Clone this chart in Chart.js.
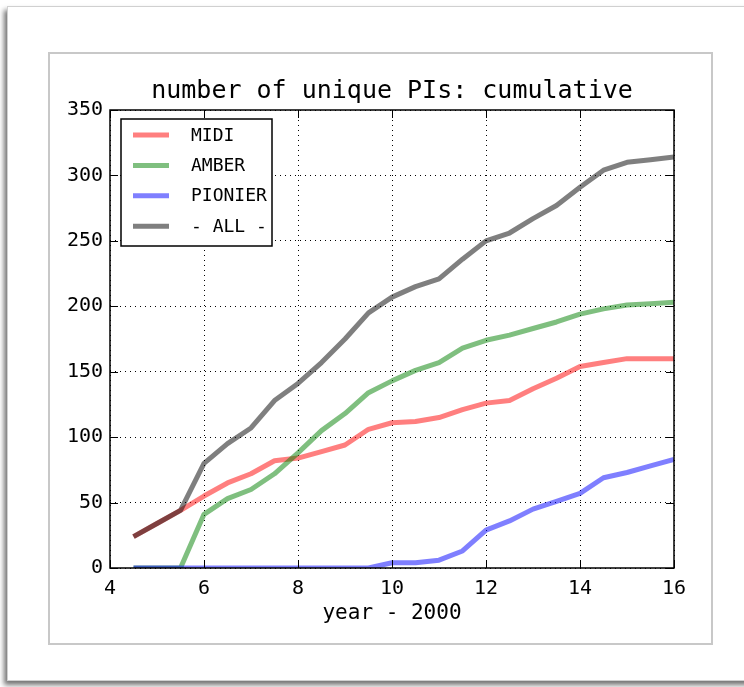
<!DOCTYPE html>
<html>
<head>
<meta charset="utf-8">
<script src="https://cdn.jsdelivr.net/npm/chart.js@4.4.0/dist/chart.umd.min.js"></script>
<style>
  html, body { margin: 0; padding: 0; background: #fff; width: 744px; height: 687px; overflow: hidden; }
  #sheet { position: absolute; left: 7px; top: 6px; width: 780px; height: 673px; border: 1px solid #d0d0d0; background: #fff; box-shadow: -3px 4px 5px rgba(0,0,0,0.55); }
  #panel { position: absolute; left: 48px; top: 52px; width: 661px; height: 589px; border: 2px solid #c8c8c8; background: #fff; }
  #wrap { position: absolute; left: 48px; top: 52px; width: 663px; height: 591px; }
</style>
</head>
<body>
<div id="sheet"></div>
<div id="panel"></div>
<div id="wrap"><canvas id="piChart" width="663" height="591"></canvas></div>
<script>
// cumulative number of unique PIs per instrument
const years   = [4.5, 5, 5.5, 6, 6.5, 7, 7.5, 8, 8.5, 9, 9.5, 10, 10.5, 11, 11.5, 12, 12.5, 13, 13.5, 14, 14.5, 15, 15.5, 16];
const midi    = [24, 34, 44, 55, 65, 72, 82, 84, 89, 94, 106, 111, 112, 115, 121, 126, 128, 137, 145, 154, 157, 160, 160, 160];
const amber   = [0, 0, 0, 41, 53, 60, 72, 88, 105, 118, 134, 143, 151, 157, 168, 174, 178, 183, 188, 194, 198, 201, 202, 203];
const pionier = [0, 0, 0, 0, 0, 0, 0, 0, 0, 0, 0, 4, 4, 6, 13, 29, 36, 45, 51, 57, 69, 73, 78, 83];
const all     = [24, 34, 44, 80, 95, 107, 128, 141, 157, 175, 195, 207, 215, 221, 236, 250, 256, 267, 277, 291, 304, 310, 312, 314];

const labels  = ['MIDI', 'AMBER', 'PIONIER', '- ALL -'];
const colors  = ['rgba(255,0,0,0.5)', 'rgba(0,128,0,0.5)', 'rgba(0,0,255,0.5)', 'rgba(0,0,0,0.5)'];
const series  = [midi, amber, pionier, all];
const title   = 'number of unique PIs: cumulative';

const FONT = "'DejaVu Sans Mono', monospace";
Chart.defaults.font.family = FONT;
Chart.defaults.color = '#000';

// box around the plot, ticks pointing inward, legend inside the axes,
// title centred over the plot area (not over the whole canvas)
const axesBox = {
  id: 'axesBox',
  afterDatasetsDraw(chart) {
    const ctx = chart.ctx;
    const a = chart.chartArea;
    const x = chart.scales.x, y = chart.scales.y;
    ctx.save();
    ctx.strokeStyle = '#000';
    ctx.lineWidth = 1;
    ctx.beginPath();
    x.ticks.forEach(t => {
      const px = Math.round(x.getPixelForValue(t.value)) + 0.5;
      ctx.moveTo(px, a.bottom); ctx.lineTo(px, a.bottom - 8);
      ctx.moveTo(px, a.top); ctx.lineTo(px, a.top + 8);
    });
    y.ticks.forEach(t => {
      const py = Math.round(y.getPixelForValue(t.value)) + 0.5;
      ctx.moveTo(a.left, py); ctx.lineTo(a.left + 8, py);
      ctx.moveTo(a.right, py); ctx.lineTo(a.right - 8, py);
    });
    ctx.stroke();

    ctx.lineWidth = 1.5;
    ctx.strokeRect(a.left, a.top, a.right - a.left, a.bottom - a.top);

    ctx.fillStyle = '#000';
    ctx.font = '25px ' + FONT;
    ctx.textAlign = 'center';
    ctx.textBaseline = 'middle';
    ctx.fillText(title, (a.left + a.right) / 2, a.top - 19);

    // legend
    const lx = a.left + 11, ly = a.top + 9;
    ctx.fillStyle = '#fff';
    ctx.fillRect(lx, ly, 151, 127);
    ctx.strokeRect(lx, ly, 151, 127);
    ctx.font = '18px ' + FONT;
    ctx.textAlign = 'left';
    chart.data.datasets.forEach((ds, i) => {
      const ry = a.top + 25 + i * 30.4;
      ctx.strokeStyle = ds.borderColor;
      ctx.lineWidth = 5;
      ctx.beginPath();
      ctx.moveTo(a.left + 23, ry);
      ctx.lineTo(a.left + 59, ry);
      ctx.stroke();
      ctx.fillStyle = '#000';
      ctx.fillText(ds.label, a.left + 81, ry + 1);
    });
    ctx.restore();
  }
};

new Chart(document.getElementById('piChart'), {
  type: 'line',
  data: {
    datasets: series.map((s, i) => ({
      label: labels[i],
      data: years.map((yr, j) => ({x: yr, y: s[j]})),
      borderColor: colors[i],
      backgroundColor: colors[i],
      borderWidth: 5,
      borderJoinStyle: 'round',
      pointRadius: 0,
      tension: 0,
      clip: 0,
      order: series.length - 1 - i   // later series painted on top
    }))
  },
  options: {
    responsive: false,
    animation: false,
    layout: { padding: { left: 0, right: 37, top: 58, bottom: 13 } },
    scales: {
      x: {
        type: 'linear',
        min: 4, max: 16,
        ticks: { stepSize: 2, padding: 9, font: { size: 20 }, maxRotation: 0 },
        grid: { color: '#000', lineWidth: 1, drawTicks: false },
        border: { display: false, dash: [1, 4] },
        title: { display: true, text: 'year - 2000', font: { size: 21 }, padding: { top: 4, bottom: 4 } },
        afterFit(s) { s.height = 62; }
      },
      y: {
        min: 0, max: 350,
        ticks: { stepSize: 50, padding: 7, font: { size: 20 } },
        grid: { color: '#000', lineWidth: 1, drawTicks: false },
        border: { display: false, dash: [1, 4] },
        afterFit(s) { s.width = 62; }
      }
    },
    plugins: {
      legend: { display: false },
      tooltip: { enabled: false },
      title: { display: false }
    }
  },
  plugins: [axesBox]
});
</script>
</body>
</html>
